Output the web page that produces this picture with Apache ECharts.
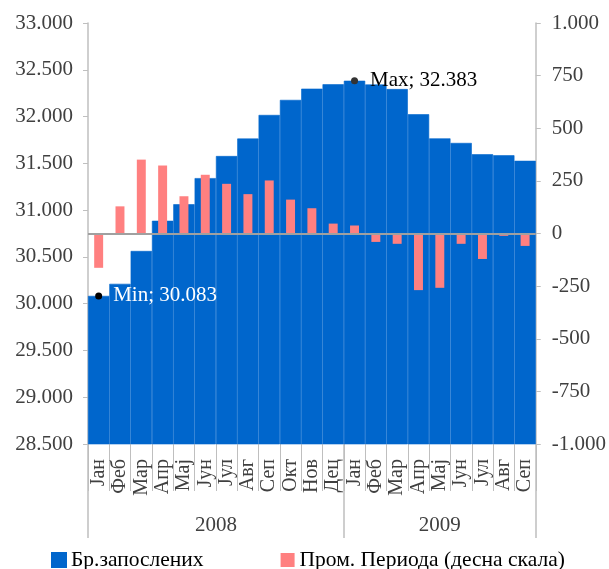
<!DOCTYPE html>
<html>
<head>
<meta charset="utf-8">
<script src="https://cdn.jsdelivr.net/npm/echarts@6/dist/echarts.min.js"></script>
<style>html,body{margin:0;padding:0;background:#fff}#c{width:609px;height:569px}</style>
</head>
<body>
<div id="c"></div>
<script>
var months = ['Јан','Феб','Мар','Апр','Мај','Јун','Јул','Авг','Сеп','Окт','Нов','Дец','Јан','Феб','Мар','Апр','Мај','Јун','Јул','Авг','Сеп'];
var yearLabels = ['2008','2009'];
var monthsPerYear = [12, 9];
var employed = [30083,30212,30563,30886,31063,31342,31578,31765,32017,32178,32298,32345,32383,32343,32294,32025,31767,31718,31597,31586,31527];
var change = [-163,129,351,323,177,279,236,187,252,161,120,47,38,-40,-49,-269,-258,-49,-121,-11,-59];
var seriesNames = ['Бр.запослених','Пром. Периода (десна скала)'];

function fmt(v){
  var s = Math.abs(v).toString();
  s = s.replace(/\B(?=(\d{3})+(?!\d))/g, '.');
  return (v < 0 ? '-' : '') + s;
}
var bounds = [0], centers = [], acc = 0;
monthsPerYear.forEach(function(n){ centers.push(acc + n/2); acc += n; bounds.push(acc); });

var FONT = 'Liberation Serif';
var TXT = '#404040';
var AX = '#bfbfbf';
var BLUE = '#0066CC';
var chart = echarts.init(document.getElementById('c'));
chart.setOption({
  animation: false,
  textStyle: {fontFamily: FONT},
  grid: {left: 88, right: 72, top: 23, bottom: 125},
  legend: {
    left: 51, top: 549, padding: 0, itemWidth: 14, itemHeight: 14, itemGap: 77,
    icon: 'rect',
    textStyle: {fontFamily: FONT, fontSize: 21.5, color: '#000'},
    data: seriesNames
  },
  xAxis: [
    {type: 'category', data: months, position: 'bottom',
     axisLine: {show: false, onZero: false},
     axisTick: {show: true, interval: 0, length: 47, lineStyle: {color: AX, width: 1}},
     axisLabel: {interval: 0, rotate: 90, margin: 15, fontSize: 20, color: TXT, fontFamily: FONT},
     splitLine: {show: false}},
    {type: 'category', data: months, show: false, position: 'bottom', axisLine: {onZero: false}},
    {type: 'value', min: 0, max: acc, position: 'bottom',
     axisLine: {show: false, onZero: false},
     axisTick: {show: true, customValues: bounds, length: 94, lineStyle: {color: AX, width: 1.5}},
     axisLabel: {customValues: centers, margin: 71, fontSize: 21, color: TXT, fontFamily: FONT,
       formatter: function(v){ for (var i=0;i<centers.length;i++){ if (Math.abs(centers[i]-v)<1e-6) return yearLabels[i]; } return ''; }},
     splitLine: {show: false}}
  ],
  yAxis: [
    {type: 'value', min: 28500, max: 33000, interval: 500, position: 'left',
     axisLine: {show: true, onZero: false, lineStyle: {color: AX, width: 1.5}},
     axisTick: {show: true, length: 5, lineStyle: {color: AX}},
     axisLabel: {formatter: fmt, fontSize: 21, color: TXT, margin: 15, fontFamily: FONT},
     splitLine: {show: false}},
    {type: 'value', min: -1000, max: 1000, interval: 250, position: 'right',
     axisLine: {show: true, onZero: false, lineStyle: {color: AX, width: 1.5}},
     axisTick: {show: true, length: 5, lineStyle: {color: AX}},
     axisLabel: {formatter: fmt, fontSize: 21, color: TXT, margin: 16, fontFamily: FONT},
     splitLine: {show: false}}
  ],
  series: [
    {name: seriesNames[0], type: 'bar', xAxisIndex: 0, yAxisIndex: 0, data: employed,
     barCategoryGap: '0%', itemStyle: {color: BLUE, borderColor: BLUE, borderWidth: 0.6},
     markPoint: {
       symbol: 'circle', symbolSize: 7,
       data: [
         {type: 'min', itemStyle: {color: '#000'},
          label: {show: true, position: 'right', distance: 11, color: '#fff', fontSize: 21, fontFamily: FONT,
                  formatter: function(p){ return 'Min; ' + fmt(p.value); }}},
         {type: 'max', itemStyle: {color: '#333'},
          label: {show: true, position: 'right', distance: 12, color: '#000', fontSize: 21, fontFamily: FONT,
                  formatter: function(p){ return 'Max; ' + fmt(p.value); }}}
       ]
     }},
    {name: seriesNames[1], type: 'bar', xAxisIndex: 1, yAxisIndex: 1, data: change,
     barWidth: '42%', itemStyle: {color: '#FF8080'},
     markLine: {silent: true, symbol: 'none', label: {show: false},
       lineStyle: {color: '#a0a0a0', width: 2, type: 'solid'},
       data: [{yAxis: 0}]}}
  ]
});
</script>
</body>
</html>
